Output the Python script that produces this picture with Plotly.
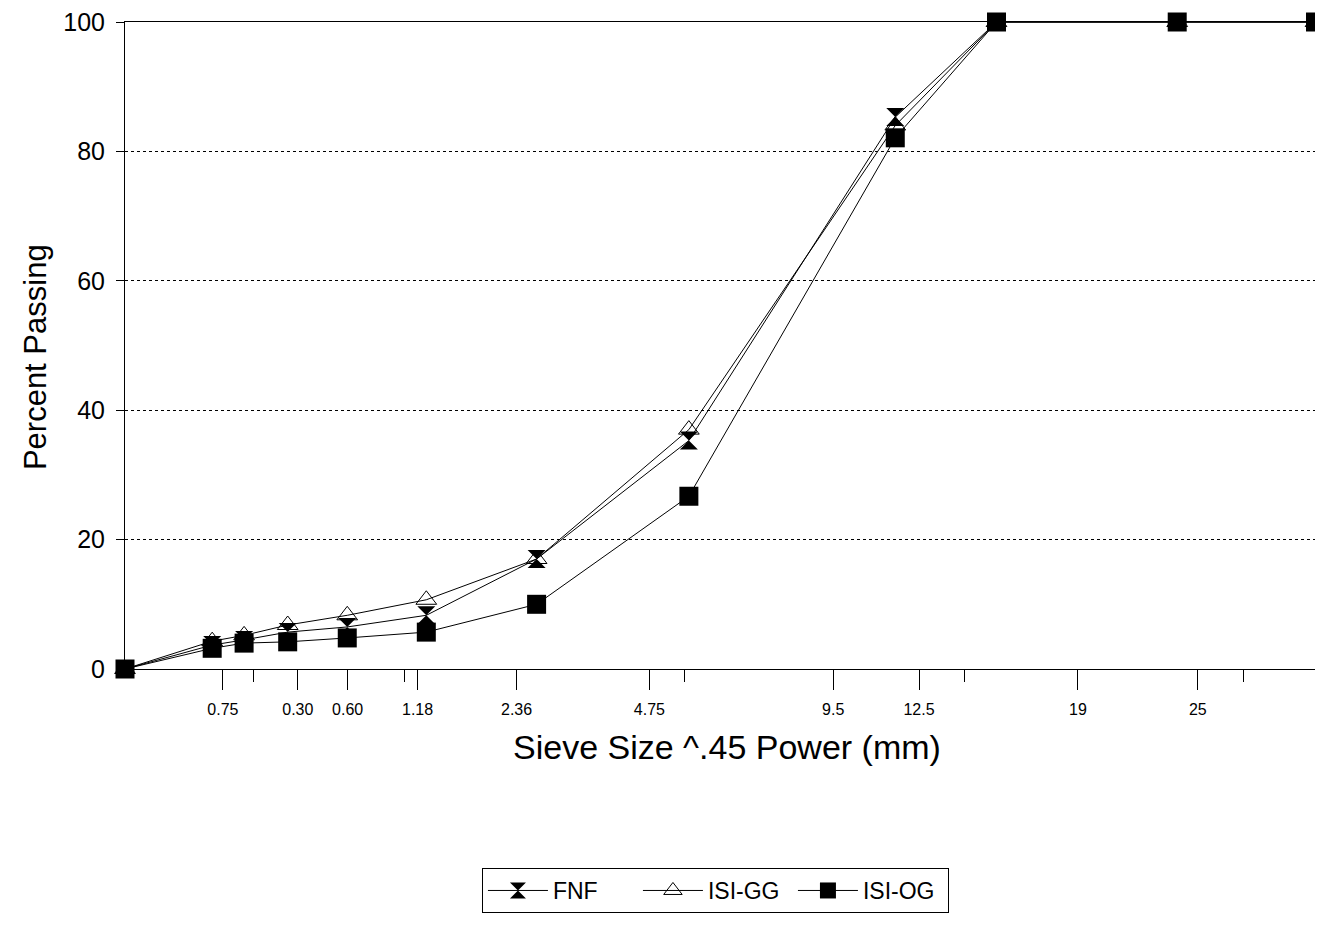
import plotly.graph_objects as go

# Sieve sizes (mm) of the data points; x axis is sieve size ^ 0.45
sieve_mm = [0, 0.075, 0.15, 0.3, 0.6, 1.18, 2.36, 4.75, 9.5, 12.5, 19, 25]

fnf = [0, 3.7, 4.5, 5.7, 6.5, 8.3, 17.0, 35.3, 85.3, 100, 100, 100]
isi_gg = [0, 4.3, 5.2, 6.8, 8.3, 10.7, 17.0, 37.0, 84.0, 100, 100, 100]
isi_og = [0, 3.2, 4.0, 4.2, 4.8, 5.7, 10.0, 26.7, 82.1, 100, 100, 100]

# Tick labels as printed on the chart and where they sit on the ^0.45 scale
tick_labels = ["0.75", "0.30", "0.60", "1.18", "2.36", "4.75", "9.5", "12.5", "19", "25"]
tick_pos = [0.35, 0.618, 0.796, 1.046, 1.40, 1.875, 2.532, 2.839, 3.407, 3.836]
minor_tick_pos = [0.46, 1.0, 2.0, 3.0, 4.0]

x = [d ** 0.45 for d in sieve_mm]
x_max = max(x) * 1.0004

FONT = "Liberation Sans, Arial, sans-serif"

fig = go.Figure()
fig.add_trace(go.Scatter(
    x=x, y=fnf, name="FNF", mode="lines+markers",
    line=dict(color="black", width=1),
    marker=dict(symbol="hourglass", size=18, color="black"),
    cliponaxis=False,
))
fig.add_trace(go.Scatter(
    x=x, y=isi_gg, name="ISI-GG", mode="lines+markers",
    line=dict(color="black", width=1),
    marker=dict(symbol="triangle-up-open", size=18, color="black",
                line=dict(width=1, color="black")),
    cliponaxis=False,
))
fig.add_trace(go.Scatter(
    x=x, y=isi_og, name="ISI-OG", mode="lines+markers",
    line=dict(color="black", width=1),
    marker=dict(symbol="square", size=19, color="black"),
    cliponaxis=False,
))

fig.update_layout(
    width=1323, height=928,
    margin=dict(l=117, r=15, t=14, b=267, autoexpand=False),
    paper_bgcolor="white", plot_bgcolor="white",
    font=dict(family=FONT, color="black"),
    showlegend=True,
    legend=dict(
        orientation="h", x=0.2997, xanchor="left", xref="paper",
        y=-0.3076, yanchor="top",
        bordercolor="black", borderwidth=1,
        font=dict(size=23, family=FONT, color="black"),
        itemwidth=60, entrywidth=80, entrywidthmode="pixels",
        tracegroupgap=0,
    ),
    xaxis=dict(
        range=[0, x_max], automargin=False,
        tickmode="array", tickvals=tick_pos, ticktext=tick_labels,
        ticks="outside", ticklen=20, tickcolor="black", tickwidth=1,
        ticklabelstandoff=6,
        tickfont=dict(size=16, family=FONT),
        minor=dict(tickmode="array", tickvals=minor_tick_pos, ticks="outside",
                   ticklen=12, tickcolor="black", tickwidth=1, showgrid=False),
        showgrid=False, zeroline=False,
        showline=True, linecolor="black", linewidth=1, mirror=True,
    ),
    yaxis=dict(
        range=[0, 100], tickvals=[0, 20, 40, 60, 80, 100], automargin=False,
        ticks="outside", ticklen=8, tickcolor="black",
        ticklabelstandoff=6, ticklabeloverflow="allow",
        tickfont=dict(size=25, family=FONT),
        showgrid=True, gridcolor="black", griddash="dot", gridwidth=1,
        zeroline=False,
        showline=True, linecolor="black", linewidth=1, mirror=True,
    ),
    annotations=[
        dict(text="Sieve Size ^.45 Power (mm)", xref="paper", yref="paper",
             x=0.5055, y=-0.1206, xanchor="center", yanchor="middle",
             showarrow=False, font=dict(size=34, family=FONT, color="black")),
        dict(text="Percent Passing", xref="paper", yref="paper",
             x=-0.0756, y=0.482, xanchor="center", yanchor="middle",
             textangle=-90, showarrow=False,
             font=dict(size=31, family=FONT, color="black")),
    ],
)

fig.write_html("out.html")
